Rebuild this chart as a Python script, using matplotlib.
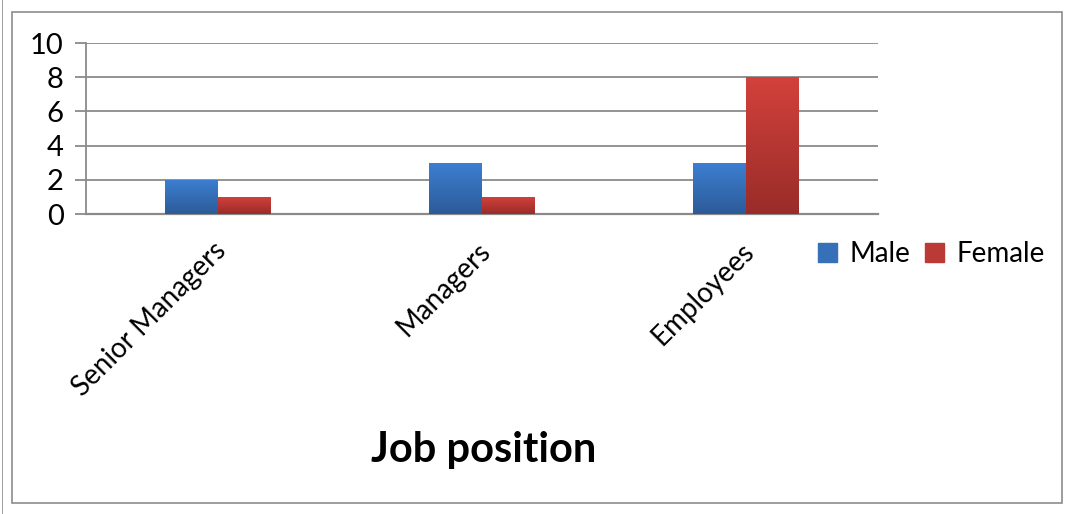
import numpy as np
import matplotlib
matplotlib.use("Agg")
import matplotlib.pyplot as plt
from matplotlib.colors import LinearSegmentedColormap
from matplotlib.patches import Rectangle
from matplotlib.transforms import ScaledTranslation

categories = ["Senior Managers", "Managers", "Employees"]
male = [2, 3, 3]
female = [1, 1, 8]
series_names = ["Male", "Female"]

plt.rcParams["font.family"] = ["Lato", "DejaVu Sans"]

fig = plt.figure(figsize=(10.72, 5.14), dpi=100)
ax = fig.add_axes([86 / 1072, 1 - 214 / 514, 792 / 1072, 171 / 514])

# outer chart border
fig.patches.append(Rectangle((12 / 1072, 11 / 514), 1050 / 1072, 491 / 514,
                             transform=fig.transFigure, fill=False,
                             edgecolor="#8c8c8c", linewidth=1.2))
fig.patches.append(Rectangle((2 / 1072, 0), 0.001, 1, transform=fig.transFigure,
                             color="#a0a0a0", linewidth=0))

x = np.arange(len(categories))
w = 0.2
b1 = ax.bar(x - w / 2, male, w, color="#3a76c2", zorder=3)
b2 = ax.bar(x + w / 2, female, w, color="#c23a35", zorder=3)


def shade(bars, top, bottom):
    cmap = LinearSegmentedColormap.from_list("g", [bottom, top])
    grad = np.linspace(0, 1, 100).reshape(-1, 1)
    for b in bars:
        bx, by = b.get_x(), b.get_y()
        bw, bh = b.get_width(), b.get_height()
        im = ax.imshow(grad, cmap=cmap, origin="lower", aspect="auto",
                       extent=[bx, bx + bw, by, by + bh], zorder=4)
        im.set_clip_path(b)


shade(b1, "#3d7fd2", "#2c5b98")
shade(b2, "#d3413b", "#992c29")

ax.set_xlim(-0.5, 2.5)
ax.set_ylim(0, 10)
ax.set_yticks([0, 2, 4, 6, 8, 10])
ax.yaxis.grid(True, color="#8a8a8a", linewidth=1.3, zorder=0)
ax.tick_params(axis="y", length=8, width=1.3, color="#8a8a8a", labelsize=21, pad=8)
ax.tick_params(axis="x", length=0, labelsize=20, pad=17)
ax.set_xticks(x)
ax.set_xticklabels(categories, rotation=45, ha="right", rotation_mode="anchor")
for lbl in ax.get_xticklabels():
    lbl.set_transform(lbl.get_transform() + ScaledTranslation(-0.05, 0, fig.dpi_scale_trans))

for s in ["top", "right"]:
    ax.spines[s].set_visible(False)
ax.spines["left"].set_color("#8a8a8a")
ax.spines["bottom"].set_color("#8a8a8a")
ax.spines["left"].set_linewidth(1.3)
ax.spines["bottom"].set_linewidth(1.6)

fig.text(484 / 1072, 1 - 450 / 514, "Job position", ha="center", va="center",
         fontsize=30, fontweight="bold")

handles = [Rectangle((0, 0), 1, 1, color="#3570b8"), Rectangle((0, 0), 1, 1, color="#bb3a35")]
fig.legend(handles, series_names, loc="center left", bbox_to_anchor=(818 / 1072, 1 - 254 / 514),
           ncol=2, frameon=False, fontsize=20, handlelength=0.7, handleheight=0.7,
           handletextpad=0.45, columnspacing=0.5, borderaxespad=0, borderpad=0)

fig.savefig("out.png", dpi=100)
